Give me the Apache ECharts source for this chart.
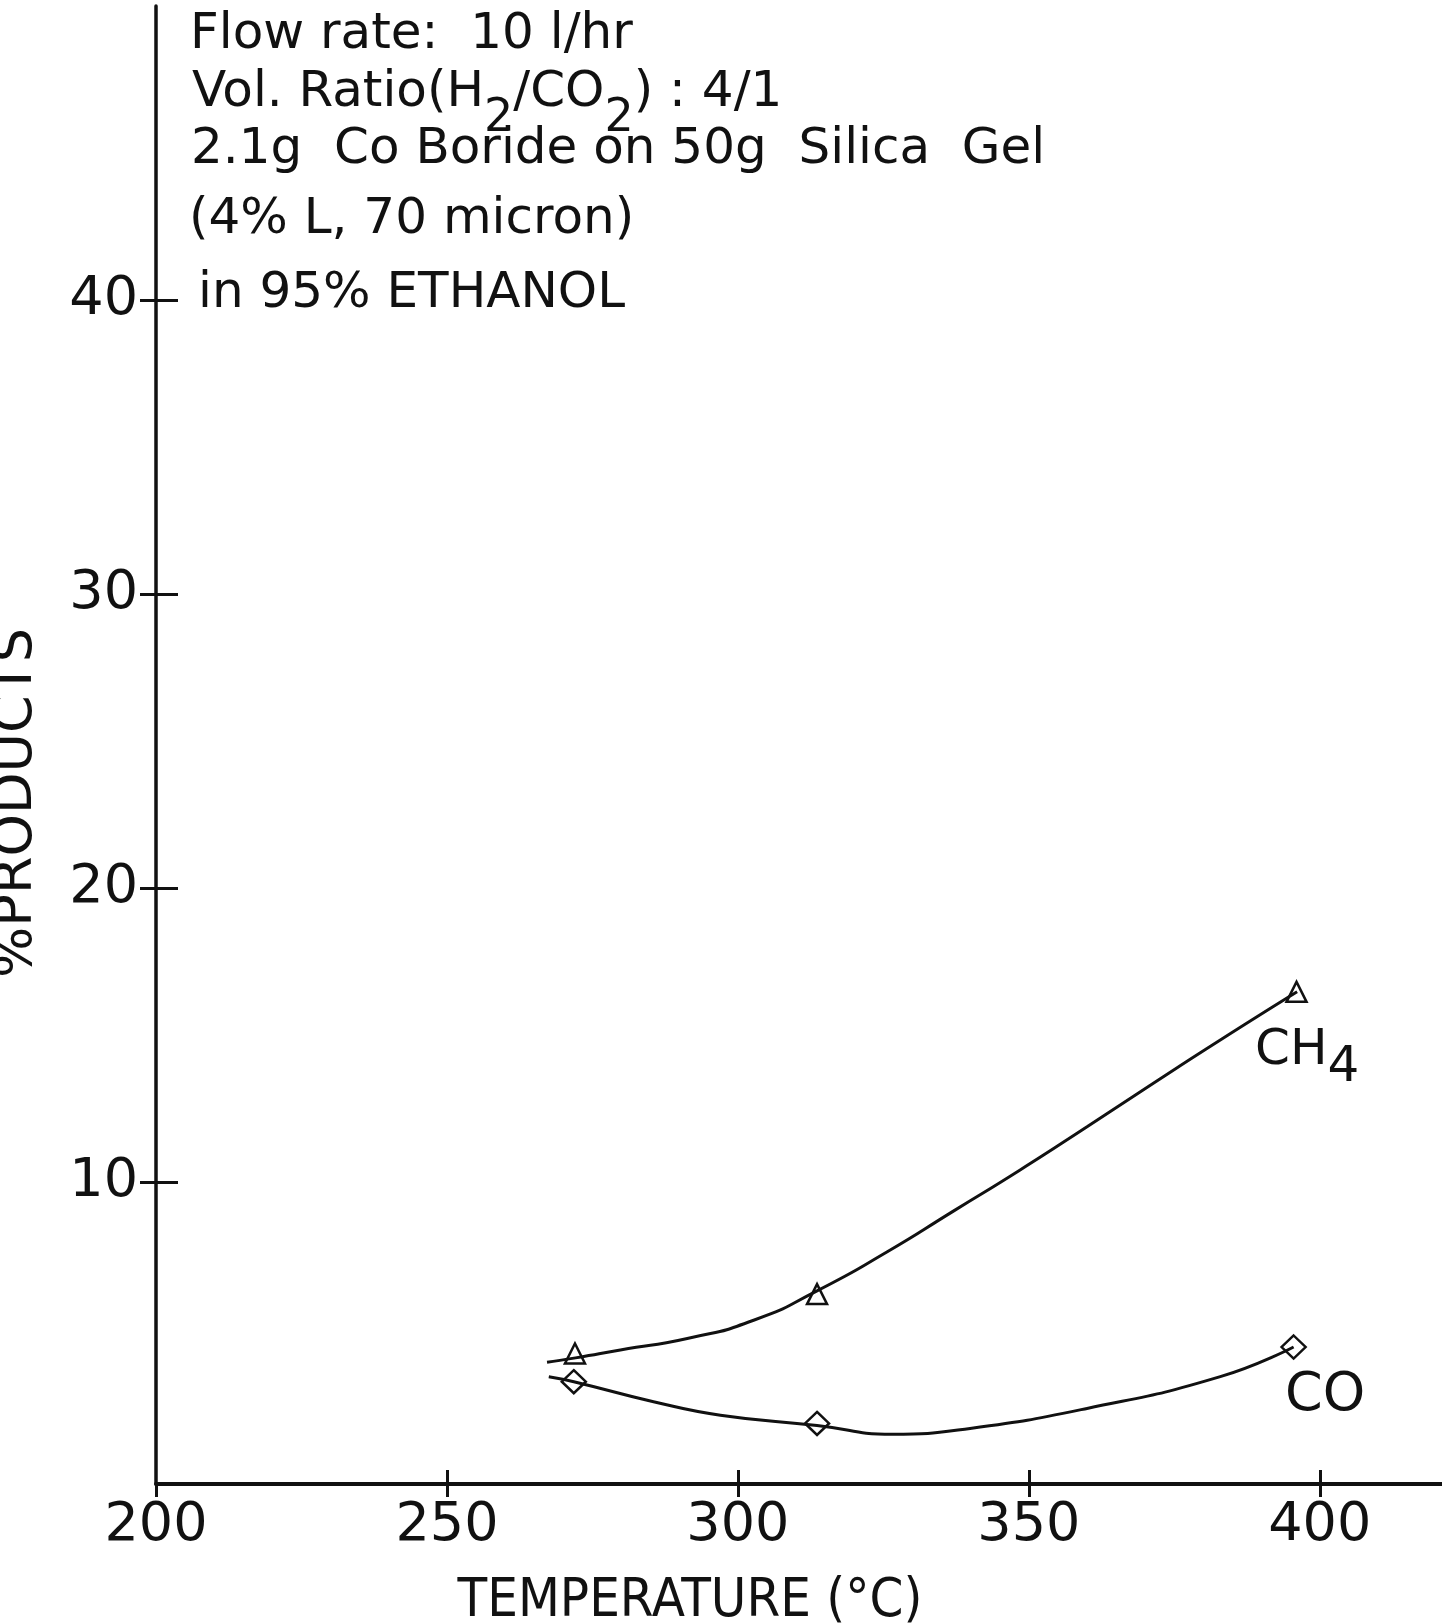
<!DOCTYPE html>
<html>
<head>
<meta charset="utf-8">
<script src="https://cdn.jsdelivr.net/npm/echarts@6/dist/echarts.min.js"></script>
<style>
html, body { margin: 0; padding: 0; background: #fff; }
#chart { width: 1442px; height: 1623px; }
</style>
</head>
<body>
<div id="chart"></div>
<script>
// CO2 hydrogenation over Co boride -- % products vs temperature
var xTicks = [200, 250, 300, 350, 400];
var yTicks = [10, 20, 30, 40];

// measured points (markers)
var pointTemp = [272, 313.6, 396];
var ch4Points = [4.17, 6.19, 16.47];
var coTemp = [271.8, 313.6, 395.5];
var coPoints = [3.21, 1.79, 4.39];

// hand drawn curves
var ch4CurveTemp = [267.2, 272.1, 279.8, 291.3, 302.7, 313.6, 325.6, 337.1, 348.5, 360.0, 371.4, 382.9, 396.1];
var ch4CurveVal = [3.87, 4.02, 4.29, 4.68, 5.30, 6.30, 7.62, 9.02, 10.41, 11.88, 13.36, 14.83, 16.47];
var coCurveTemp = [267.5, 271.8, 285.5, 297.0, 313.6, 326.5, 339.9, 360.0, 382.9, 395.5];
var coCurveVal = [3.38, 3.21, 2.53, 2.07, 1.72, 1.42, 1.62, 2.30, 3.38, 4.39];

var noteLines = [
    "Flow rate:  10 l/hr",
    "{n|Vol. Ratio(H}{s|2}{n|/CO}{s|2}{n|) : 4/1}",
    "2.1g  Co Boride on 50g  Silica  Gel",
    "(4% L, 70 micron)",
    "in 95% ETHANOL"
];

var FONT = "DejaVu Sans";
var INK = "#111";

function zip(xs, ys) {
    var out = [];
    for (var i = 0; i < xs.length; i++) {
        out.push([xs[i], ys[i]]);
    }
    return out;
}

var chart = echarts.init(document.getElementById("chart"));

var gridBox = { left: 156, right: 0, top: 6, bottom: 139 };
var plotHeight = 1623 - gridBox.top - gridBox.bottom;
var plotWidth = 1442 - gridBox.left - gridBox.right;
var xRange = { min: 200, max: 421 };
var yRange = { min: -0.27, max: 50 };

var option = {
    animation: false,
    backgroundColor: "#fff",
    textStyle: { fontFamily: FONT, color: INK },
    grid: gridBox,
    xAxis: [{
        type: "value",
        position: "bottom",
        min: xRange.min, max: xRange.max,
        axisLine: { show: true, onZero: false, lineStyle: { color: INK, width: 4 } },
        axisTick: { show: true, inside: false, length: 13, customValues: xTicks, lineStyle: { color: INK, width: 3 } },
        axisLabel: { customValues: xTicks, fontSize: 54, color: INK, fontFamily: FONT, margin: 15 },
        splitLine: { show: false }
    }, {
        // upper half of the x ticks: a top axis pushed down onto the bottom line
        type: "value",
        position: "top",
        offset: -plotHeight,
        min: xRange.min, max: xRange.max,
        axisLine: { show: false, onZero: false },
        axisTick: { show: true, inside: false, length: 14, customValues: [250, 300, 350, 400], lineStyle: { color: INK, width: 3 } },
        axisLabel: { show: false },
        splitLine: { show: false }
    }],
    yAxis: [{
        type: "value",
        position: "left",
        min: yRange.min, max: yRange.max,
        axisLine: { show: true, onZero: false, lineStyle: { color: INK, width: 3.5 } },
        axisTick: { show: true, inside: false, length: 16, customValues: yTicks, lineStyle: { color: INK, width: 3 } },
        axisLabel: { customValues: yTicks, fontSize: 54, color: INK, fontFamily: FONT, margin: 18 },
        splitLine: { show: false }
    }, {
        // right half of the y ticks: a right axis pushed onto the left line
        type: "value",
        position: "right",
        offset: -plotWidth,
        min: yRange.min, max: yRange.max,
        axisLine: { show: false, onZero: false },
        axisTick: { show: true, inside: false, length: 22, customValues: yTicks, lineStyle: { color: INK, width: 3 } },
        axisLabel: { show: false },
        splitLine: { show: false }
    }],
    series: [{
        name: "CH4 curve",
        type: "line",
        smooth: 0.6,
        symbol: "none",
        data: zip(ch4CurveTemp, ch4CurveVal),
        lineStyle: { color: INK, width: 3 }
    }, {
        name: "CO curve",
        type: "line",
        smooth: 0.5,
        symbol: "none",
        data: zip(coCurveTemp, coCurveVal),
        lineStyle: { color: INK, width: 3 }
    }, {
        name: "CH4",
        type: "scatter",
        symbol: "triangle",
        symbolSize: [20, 20],
        data: zip(pointTemp, ch4Points),
        itemStyle: { color: "#fff", borderColor: INK, borderWidth: 2.5, opacity: 1 }
    }, {
        name: "CO",
        type: "scatter",
        symbol: "diamond",
        symbolSize: [24, 23],
        data: zip(coTemp, coPoints),
        itemStyle: { color: "#fff", borderColor: INK, borderWidth: 2.5, opacity: 1 }
    }],
    graphic: [
        // conditions block
        { type: "text", x: 190, y: 35, style: { text: noteLines[0], font: "50px " + FONT, fill: INK, align: "left", verticalAlign: "middle" } },
        { type: "text", x: 192, y: 68, style: {
            text: noteLines[1], fill: INK, align: "left", verticalAlign: "top",
            rich: {
                n: { fontSize: 50, fontFamily: FONT, lineHeight: 50, verticalAlign: "top", fill: INK },
                s: { fontSize: 46, fontFamily: FONT, lineHeight: 46, verticalAlign: "top", padding: [28, 0, 0, 0], fill: INK }
            }
        } },
        { type: "text", x: 191, y: 150, style: { text: noteLines[2], font: "50px " + FONT, fill: INK, align: "left", verticalAlign: "middle" } },
        { type: "text", x: 189, y: 220, style: { text: noteLines[3], font: "50px " + FONT, fill: INK, align: "left", verticalAlign: "middle" } },
        { type: "text", x: 198, y: 294, style: { text: noteLines[4], font: "50px " + FONT, fill: INK, align: "left", verticalAlign: "middle" } },
        // curve labels
        { type: "text", x: 1255, y: 1026, style: {
            text: "{n|CH}{s|4}", fill: INK, align: "left", verticalAlign: "top",
            rich: {
                n: { fontSize: 50, fontFamily: FONT, lineHeight: 50, verticalAlign: "top", fill: INK },
                s: { fontSize: 50, fontFamily: FONT, lineHeight: 50, verticalAlign: "top", padding: [17, 0, 0, 0], fill: INK }
            }
        } },
        { type: "text", x: 1285, y: 1396, style: { text: "CO", font: "54px " + FONT, fill: INK, align: "left", verticalAlign: "middle" } },
        // axis titles
        { type: "text", x: 690, y: 1602, scaleX: 0.9, style: { text: "TEMPERATURE (°C)", font: "54px " + FONT, fill: INK, align: "center", verticalAlign: "middle" } },
        { type: "text", x: 17, y: 803, rotation: Math.PI / 2, style: { text: "%PRODUCTS", font: "54px " + FONT, fill: INK, align: "center", verticalAlign: "middle" } }
    ]
};

chart.setOption(option);
</script>
</body>
</html>
